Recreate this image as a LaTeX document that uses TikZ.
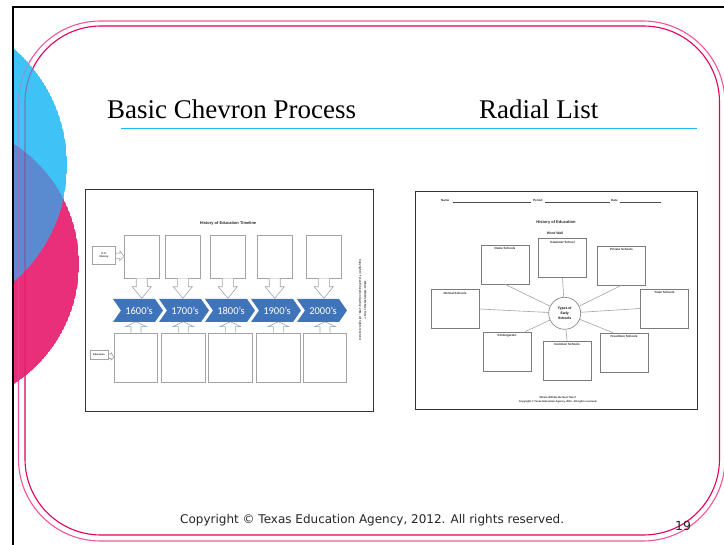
\documentclass[tikz,border=0pt]{standalone}
\usepackage{fontspec}
\setmainfont{Liberation Serif}
\newfontfamily\footfont{DejaVu Sans}
\newfontfamily\chevfont{Carlito}
\newfontfamily\formfont{Liberation Sans}
\usetikzlibrary{calc}

\definecolor{slideblue}{HTML}{3FC3F7}
\definecolor{slidepink}{HTML}{E92E7A}
\definecolor{slidemix}{HTML}{5A8ACF}
\definecolor{frameouter}{HTML}{F2559A}
\definecolor{frameinner}{HTML}{E2005C}
\definecolor{ruleblue}{HTML}{1DB9F2}
\definecolor{chevblue}{HTML}{3F74BA}
\definecolor{formgray}{HTML}{A4A4A4}
\definecolor{formdark}{HTML}{7C7C7C}

% the two overlapping discs at the left edge, as three disjoint regions
\newcommand\slidediscs[1]{%
  \begin{scope}
    \clip (13,8.5) rectangle (724,545);
    \begin{scope}
      \clip (-64,264) circle[radius=143pt];
      \fill[slidepink, opacity=#1, even odd rule] (-64,264) circle[radius=143pt] (-87,165) circle[radius=154pt];
    \end{scope}
    \begin{scope}
      \clip (-87,165) circle[radius=154pt];
      \fill[slideblue, opacity=#1, even odd rule] (-64,264) circle[radius=143pt] (-87,165) circle[radius=154pt];
    \end{scope}
    \begin{scope}
      \clip (-64,264) circle[radius=143pt];
      \fill[slidemix, opacity=#1] (-87,165) circle[radius=154pt];
    \end{scope}
  \end{scope}}

\tikzset{
  formline/.style={draw=formgray, line width=0.6pt},
  lbox/.style={formline, inner sep=0, minimum width=34.5pt, minimum height=43pt},
  bbox/.style={formline, inner sep=0, minimum width=43.5pt, minimum height=49pt},
  rbox/.style={draw=formdark, line width=0.6pt, inner sep=0, minimum width=48pt, minimum height=39pt},
  tinytext/.style={font=\formfont\bfseries\fontsize{3}{3.6}\selectfont, inner sep=0, text=black!85},
  chevtext/.style={font=\chevfont\fontsize{10.5}{12}\selectfont, text=white, inner sep=0},
  spoke/.style={draw=formgray, line width=0.6pt},
  panel/.style={draw=black!80, line width=1pt, inner sep=0, fill=white},
  boxlabel/.style={tinytext, anchor=north, yshift=-2.5pt}
}

\begin{document}
\begin{tikzpicture}[x=1pt,y=-1pt]
\useasboundingbox (0,0) rectangle (724,545);
\fill[white] (0,0) rectangle (724,545);

% background discs
\slidediscs{1}

% double rounded frame
\draw[frameouter, line width=1.1pt, rounded corners=82pt] (18.5,21) rectangle (725,541);
\draw[frameinner, line width=1.1pt, rounded corners=76pt] (25,26) rectangle (719.5,535);

% the frame lines show through the discs
\slidediscs{0.6}

% slide border
\draw[black, line width=2pt] (12.5,545) -- (12.5,7.5) -- (724,7.5);

% headings
\node[anchor=base west, inner sep=0, font=\fontsize{27}{32}\selectfont] (head1) at (107,118.3) {Basic Chevron Process};
\node[anchor=base west, inner sep=0, font=\fontsize{27}{32}\selectfont] (head2) at (479,118.3) {Radial List};
\draw[ruleblue, line width=1.3pt] (121,128.5) -- (697,128.5);

% ---------- timeline handout ----------
\node[panel, minimum width=288pt, minimum height=222pt] (lpanel) at (229,301) {};
\node[tinytext, font=\formfont\bfseries\fontsize{4}{5}\selectfont] (ltitle) at (228,223) {History of Education Timeline};

\foreach \i/\x in {1/141.7,2/182.8,3/227.8,4/274.7,5/323.8}
  \node[lbox] (t\i) at (\x,256.5) {};
\foreach \i/\x in {1/136,2/183.3,3/230.3,4/278.3,5/325}
  \node[bbox] (b\i) at (\x,357.5) {};

% block arrows down into the chevrons and up from the lower boxes
\foreach \i in {1,...,5} {
  \draw[formline, fill=white] ($(t\i.south)+(-5.5,0)$) -- ++(0,8.5) -- ++(-4,0)
     -- ($(t\i.south)+(0,20)$) -- ++(9.5,-11.5) -- ++(-4,0) -- ++(0,-8.5);
  \draw[formline, fill=white] ($(b\i.north)+(-5,0)$) -- ++(0,-6) -- ++(-5.5,0)
     -- ($(b\i.north)+(0,-11)$) -- ++(10.5,5) -- ++(-5.5,0) -- ++(0,6);
}

% chevrons
\foreach \i/\x/\yr in {1/113/1600,2/159/1700,3/205/1800,4/251/1900,5/297/2000} {
  \fill[chevblue] (\x,299) -- ++(42,0) -- ++(8,11.5) -- ++(-8,11.5) -- ++(-42,0) -- ++(8,-11.5) -- cycle;
  \node[chevtext] (c\i) at (\x+26,310.8) {\yr’s};
}

% side labels with small block arrows
\node[formline, inner sep=0, minimum width=23.4pt, minimum height=18pt, tinytext, align=center,
      font=\formfont\bfseries\fontsize{2.6}{3.2}\selectfont] (us) at (104,255) {U.S.\\History};
\draw[formline, fill=white] ($(us.east)+(0,-1.8)$) -- ++(4,0) -- ++(0,-2) -- (t1.west)
   -- ++(-4.6,4.2) -- ++(0,-2) -- ++(-4,0) -- cycle;
\node[formline, inner sep=0, minimum width=17.7pt, minimum height=8.5pt, tinytext,
      font=\formfont\bfseries\fontsize{2.4}{3}\selectfont] (edu) at (99,355) {Education};
\draw[formline] ($(edu.east)+(0,-1)$) -- ++(3,0) -- ++(0,-1.5) -- (b1.west)
   -- ++(-3,2.5) -- ++(0,-1.5) -- ++(-3,0);

% rotated copyright lines
\node[tinytext, rotate=-90, align=center, font=\formfont\bfseries\fontsize{2.7}{5}\selectfont] (lcopy) at (362.5,300)
  {Where Will We Be Next Time?\\Copyright \textcopyright{} Texas Education Agency, 2011. All rights reserved.};

% ---------- radial handout ----------
\node[panel, minimum width=282pt, minimum height=218pt] (rpanel) at (556,301) {};

\node[tinytext, anchor=base west] (nm) at (441,201.5) {Name};
\draw[black!70, line width=0.4pt] (453,202.3) -- (531,202.3);
\node[tinytext, anchor=base west] (pd) at (533,201.5) {Period};
\draw[black!70, line width=0.4pt] (545,202.3) -- (610,202.3);
\node[tinytext, anchor=base west] (dt) at (611,201.5) {Date};
\draw[black!70, line width=0.4pt] (620,202.3) -- (661,202.3);

\node[tinytext, font=\formfont\bfseries\fontsize{4}{5}\selectfont] (rtitle) at (556,222) {History of Education};
\node[tinytext, font=\formfont\bfseries\fontsize{3.4}{4}\selectfont] (wall) at (555,233) {Word Wall};

\node[rbox, label={[boxlabel]north:Grammar School}] (grammar) at (562.5,258) {};
\node[rbox, label={[boxlabel]north:Dame Schools}] (dame) at (505,264.5) {};
\node[rbox, label={[boxlabel]north:Private Schools}] (private) at (621.5,265.5) {};
\node[rbox, label={[boxlabel]north:Normal Schools}] (normal) at (455,309) {};
\node[rbox, label={[boxlabel]north:Town Schools}] (town) at (664.5,308.5) {};
\node[rbox, label={[boxlabel]north:Kindergarten}] (kg) at (507,351.5) {};
\node[rbox, label={[boxlabel]north:Common Schools}] (common) at (567,360.5) {};
\node[rbox, label={[boxlabel]north:Freedmen Schools}] (freed) at (624,352.5) {};

\node[circle, draw=formdark, line width=0.6pt, minimum size=32pt, inner sep=0, align=center,
      font=\formfont\bfseries\fontsize{3.4}{4.6}\selectfont] (hub) at (564.7,313.3) {Types of\\Early\\Schools};

\draw[spoke] (hub) -- (grammar.south);
\draw[spoke] (hub) -- (dame.south);
\draw[spoke] (hub) -- (private.south);
\draw[spoke] (hub) -- (normal.east);
\draw[spoke] (hub) -- (town.west);
\draw[spoke] (hub) -- ([xshift=18pt]kg.north);
\draw[spoke] (hub) -- (common.north);
\draw[spoke] (hub) -- ([xshift=-11pt]freed.north);

\node[tinytext, align=center, font=\formfont\bfseries\fontsize{2.6}{4}\selectfont] (rcopy) at (558,400)
  {Where Will We Be Next Time?\\Copyright \textcopyright{} Texas Education Agency, 2011. All rights reserved.};

% footer
\node[anchor=base west, inner sep=0, font=\footfont\fontsize{12}{14}\selectfont, text=black!85] (foot) at (180,524)
  {Copyright © Texas Education Agency, 2012. All rights reserved.};
\node[anchor=base west, inner sep=0, font=\footfont\fontsize{12.5}{14}\selectfont, text=black!85] (pageno) at (675,531) {19};
\end{tikzpicture}
\end{document}
